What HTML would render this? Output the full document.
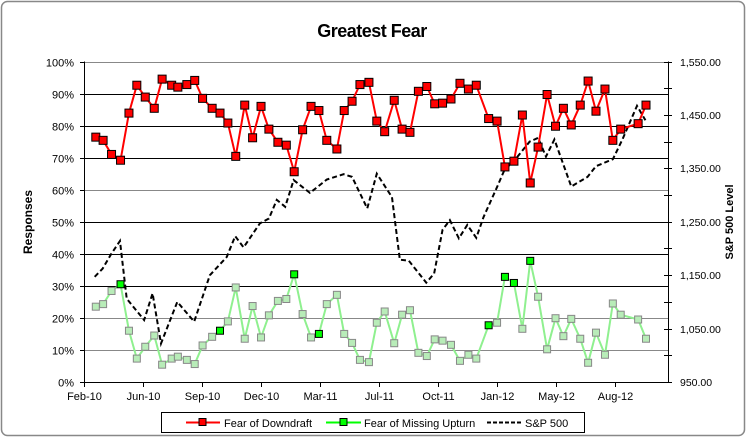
<!DOCTYPE html>
<html><head><meta charset="utf-8"><style>
html,body{margin:0;padding:0;background:#fff;}
svg{display:block;font-family:"Liberation Sans",Arial,sans-serif;}
</style></head><body>
<svg id="chart" width="746" height="437" viewBox="0 0 746 437" xmlns="http://www.w3.org/2000/svg">
<rect x="1.5" y="1.5" width="743" height="434" rx="6" fill="#fff" stroke="#888" stroke-width="1.5"/>
<text x="372" y="37" text-anchor="middle" font-size="18" font-weight="bold" letter-spacing="-0.5">Greatest Fear</text>
<text transform="translate(32,222) rotate(-90)" text-anchor="middle" font-size="12" font-weight="bold">Responses</text>
<text transform="translate(733,222) rotate(-90)" text-anchor="middle" font-size="11" font-weight="bold">S&amp;P 500 Level</text>
<g id="grid"></g><g id="axes"></g><g id="series"></g>
<g>
<rect x="161.5" y="412.5" width="423" height="20" fill="#fff" stroke="#000"/>
<g><line x1="186" y1="422.5" x2="220" y2="422.5" stroke="#f00" stroke-width="2"/><rect x="199" y="418.5" width="7" height="7" fill="#f00" stroke="#000"/><text x="224" y="427" font-size="11">Fear of Downdraft</text></g>
<g><line x1="326" y1="422.5" x2="361" y2="422.5" stroke="#0f0" stroke-width="2"/><rect x="340" y="418.5" width="7" height="7" fill="#0f0" stroke="#000"/><text x="364" y="427" font-size="11">Fear of Missing Upturn</text></g>
<g><line x1="487" y1="422.5" x2="521" y2="422.5" stroke="#000" stroke-width="2" stroke-dasharray="4,2"/><text x="525" y="427" font-size="11">S&amp;P 500</text></g>
</g>
</svg>
<script>
// days since 1 Feb 2010
const surveyDays=[21,34,49,65,80,94,109,125,139,156,167,183,197,211,228,242,256,270,286,300,315,329,345,360,374,389,404,418,432,450,463,477,491,507,521,535,552,566,580,595,610,624,638,653,669,684,698,720,735,749,765,780,794,808,824,839,853,867,883,897,911,927,941,955,986,1000];
const downdraft=[76.4,75.4,71.0,69.2,83.9,92.6,88.9,85.4,94.5,92.6,92.0,92.8,94.1,88.5,85.4,83.9,80.8,70.4,86.4,76.2,86.0,78.9,74.8,73.9,65.6,78.7,86.0,84.7,75.4,72.7,84.7,87.6,92.8,93.5,81.4,78.1,87.9,78.9,77.9,90.7,92.2,86.8,87.0,88.3,93.2,91.4,92.6,82.2,81.4,67.1,68.9,83.3,62.1,73.3,89.7,79.8,85.4,80.2,86.4,93.9,84.5,91.4,75.4,78.9,80.6,86.4];
const missingUpturn=[23.5,24.3,28.4,30.5,16.0,7.3,11.0,14.5,5.4,7.3,7.9,6.9,5.6,11.4,14.1,16.0,18.9,29.5,13.5,23.7,13.9,20.8,25.3,25.9,33.6,21.2,13.9,15.0,24.3,27.2,15.0,12.2,6.9,6.2,18.5,22.0,12.1,21.0,22.4,9.1,8.1,13.3,12.9,11.6,6.6,8.5,7.3,17.7,18.5,32.8,30.9,16.6,37.8,26.6,10.2,19.9,14.3,19.7,13.5,6.0,15.4,8.5,24.5,21.0,19.5,13.5];
const spDays=[19,33,48,64,76,107,122,137,166,196,224,254,269,284,313,329,343,358,373,402,432,462,477,504,521,548,562,578,609,623,638,651,667,682,698,711,735,749,763,793,808,822,837,867,896,911,941,958,984,999];
const spLevel=[1147,1162,1189,1214,1106,1066,1116,1022,1100,1063,1150,1184,1223,1202,1247,1256,1291,1278,1328,1304,1329,1339,1334,1275,1340,1296,1179,1177,1136,1153,1235,1253,1219,1244,1220,1259,1315,1349,1361,1400,1407,1372,1404,1316,1334,1354,1367,1404,1467,1440];
const pctTicks=[0,10,20,30,40,50,60,70,80,90,100];
const spTicks=[950,1050,1150,1250,1350,1450,1550];
const xTickLabels=["Feb-10","Jun-10","Sep-10","Dec-10","Mar-11","Jul-11","Oct-11","Jan-12","May-12","Aug-12"];
const xTickDays=[0,105,210,315,420,525,630,735,840,945];

const L=84,R=668,T=61.5,B=382;
const NS="http://www.w3.org/2000/svg";
const x=d=>L+d*0.562;
const y=p=>B-(B-T)*p/100;
const y2=v=>B-(B-T)*(v-950)/600;
function mk(parent,tag,attrs){const e=document.createElementNS(NS,tag);for(const k in attrs)e.setAttribute(k,attrs[k]);document.getElementById(parent).appendChild(e);return e;}

pctTicks.forEach((p,i)=>{
  const gy=Math.round(y(p))+0.5;
  const gray=(p===10||p===20||p===60||p===100);
  if(p>0){const g=mk('grid','line',{x1:L,x2:R,y1:gy,y2:gy,stroke:gray?'#888':'#000','stroke-width':1});
  
  }
  const t=mk('axes','text',{x:74,y:gy+4,'text-anchor':'end','font-size':11});t.textContent=p+'%';
  
  
  mk('axes','line',{x1:L-4,x2:L,y1:gy,y2:gy,stroke:'#000'});
});
for(let v=950;v<=1550;v+=50){const gy=Math.round(y2(v))+0.5;mk('axes','line',{x1:R-4,x2:R+4,y1:gy,y2:gy,stroke:'#000'});}
spTicks.forEach(v=>{
  const t=mk('axes','text',{x:680,y:Math.round(y2(v))+4,'font-size':10.5});
  t.textContent=v.toLocaleString('en-US',{minimumFractionDigits:2});
  
  
});
mk('axes','line',{x1:L+0.5,x2:L+0.5,y1:T,y2:B,stroke:'#000'});
mk('axes','line',{x1:R+0.5,x2:R+0.5,y1:T,y2:B,stroke:'#000'});
mk('axes','line',{x1:L,x2:R,y1:B+0.5,y2:B+0.5,stroke:'#000'});
xTickDays.forEach((d,i)=>{
  const px=Math.round(x(d))+0.5;
  mk('axes','line',{x1:px,x2:px,y1:B,y2:B+5,stroke:'#000'});
  const t=mk('axes','text',{x:px,y:400,'text-anchor':'middle','font-size':11});t.textContent=xTickLabels[i];
  
  
});

const sp=mk('series','polyline',{points:spDays.map((d,i)=>x(d)+','+y2(spLevel[i])).join(' '),fill:'none',stroke:'#000','stroke-width':2,'stroke-dasharray':'5,3'});


const gl=mk('series','polyline',{points:surveyDays.map((d,i)=>x(d)+','+y(missingUpturn[i])).join(' '),fill:'none',stroke:'#8ff08f','stroke-width':2});


const rl=mk('series','polyline',{points:surveyDays.map((d,i)=>x(d)+','+y(downdraft[i])).join(' '),fill:'none',stroke:'#f00','stroke-width':2});


const bright=[3,15,24,27,47,49,50,52];
surveyDays.forEach((d,i)=>{
  const b=bright.includes(i);
  const m=mk('series','rect',{x:x(d)-3.5,y:y(missingUpturn[i])-3.5,width:7,height:7,fill:b?'#0f0':'#b8ecb8',stroke:b?'#000':'#888'});
  
  
});
surveyDays.forEach((d,i)=>{
  const m=mk('series','rect',{x:x(d)-4,y:y(downdraft[i])-4,width:8,height:8,fill:'#f00',stroke:'#000'});
  
  
});
</script>
</body></html>
